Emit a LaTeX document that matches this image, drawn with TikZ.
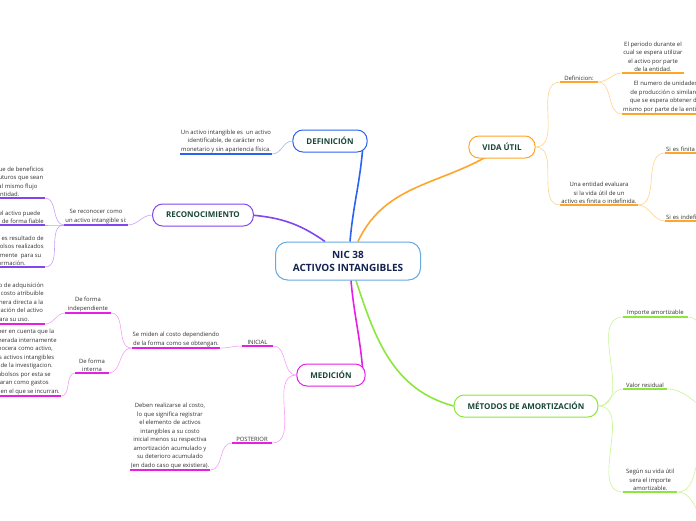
\documentclass[tikz,border=0pt]{standalone}
\usepackage{fontspec}
\setmainfont{Open Sans}
\usetikzlibrary{backgrounds}
\definecolor{mainblue}{RGB}{100,170,225}
\definecolor{mainnavy}{RGB}{20,35,80}
\definecolor{topicgreen}{RGB}{25,70,55}
\definecolor{subgray}{RGB}{50,50,50}
\definecolor{defblue}{RGB}{40,100,240}
\definecolor{deflight}{RGB}{150,185,250}
\definecolor{recpurple}{RGB}{130,70,240}
\definecolor{reclight}{RGB}{200,160,250}
\definecolor{medpink}{RGB}{230,30,230}
\definecolor{medlight}{RGB}{245,160,245}
\definecolor{vidaorange}{RGB}{255,165,40}
\definecolor{vidalight}{RGB}{255,210,140}
\definecolor{metgreen}{RGB}{140,230,60}
\definecolor{metlight}{RGB}{200,245,150}
\begin{document}
\begin{tikzpicture}[x=1pt, y=-1pt,
  every node/.style={font=\fontsize{5.9}{8.5}\selectfont, text=subgray, inner sep=1pt, align=center},
  central/.style={draw=mainblue, line width=1pt, rounded corners=12pt, fill=white, text=mainnavy,
    font=\fontsize{10}{13}\selectfont\bfseries, minimum width=145pt, minimum height=38pt},
  topic/.style={draw=#1, line width=1pt, rounded corners=10pt, fill=white, text=topicgreen,
    font=\fontsize{8}{10}\selectfont\bfseries, minimum height=22pt, inner xsep=13.5pt},
  ul/.style={draw=#1, line width=1.4pt},
  twig/.style={draw=#1, line width=0.6pt},
  limb/.style={draw=#1, line width=1.6pt}]
  \useasboundingbox (0,0) rectangle (696,520);
  \clip (0,0) rectangle (696,520);
  % Central topic
  \node[central] (nic) at (348,261) {NIC 38\\ACTIVOS INTANGIBLES};
  % Main topics
  \node[topic=defblue] (def) at (330,141) {DEFINICIÓN};
  \node[topic=recpurple] (rec) at (203,215) {RECONOCIMIENTO};
  \node[topic=medpink] (med) at (331,375) {MEDICIÓN};
  \node[topic=vidaorange] (vida) at (502,147) {VIDA ÚTIL};
  \node[topic=metgreen] (met) at (526,406) {MÉTODOS DE AMORTIZACIÓN};
  \begin{scope}[on background layer]
    \draw[limb=defblue] ([xshift=2pt]nic.north) to[out=85,in=-95] ([xshift=-5pt,yshift=3pt]def.south east);
    \draw[limb=recpurple] ([xshift=-23pt]nic.north) to[out=145,in=-5] ([xshift=-3pt]rec.east);
    \draw[limb=vidaorange] ([xshift=10pt]nic.north) to[out=65,in=215] (vida.center);
    \draw[limb=medpink] ([xshift=3pt]nic.south) to[out=-85,in=95] ([xshift=-3pt,yshift=-5pt]med.north east);
    \draw[limb=metgreen] ([xshift=8pt]nic.south) to[out=-72,in=165] (met.west);
  \end{scope}
  % Definicion
  \node[anchor=south] (defTxt) at (226,154) {Un activo intangible es\ \ un activo\\identificable, de carácter no\\monetario y sin apariencia física.};
  \draw[twig=deflight] (def.west) to[out=180,in=0] (defTxt.south east);
  % Reconocimiento
  \node[anchor=south] (recTxt) at (96,225) {Se reconocer como\\un activo intangible si:};
  \node[anchor=south east] (rec1) at (45,198) {Es probable que de beneficios\\económicos futuros que sean\\atribuibles al mismo flujo\\a la entidad.};
  \node[anchor=south east] (rec2) at (45,225) {El costo del activo puede\\ser medido de forma fiable};
  \node[anchor=south east] (rec3) at (45,267) {El activo es resultado de\\desembolsos realizados\\internamente\ \ para su\\formación.};
  \draw[twig=reclight] (rec.west) to[out=180,in=0] (recTxt.south east);
  \foreach \n in {rec1,rec2,rec3}
    \draw[twig=reclight] (recTxt.south west) to[out=180,in=0] (\n.south east);
  % Medicion
  \node[anchor=south, minimum width=31pt] (inicTxt) at (257.5,346) {INICIAL};
  \node[anchor=south, minimum width=40pt] (postTxt) at (252,443) {POSTERIOR};
  \node[anchor=south] (misTxt) at (176,348) {Se miden al costo dependiendo\\de la forma como se obtengan.};
  \node[anchor=south, minimum width=45pt] (indTxt) at (88,313) {De forma\\independiente};
  \node[anchor=south, minimum width=33pt] (intTxt) at (92,373) {De forma\\interna};
  \node[anchor=south east] (ind1) at (45,324) {El costo de adquisición\\más el costo atribuible\\de manera directa a la\\preparación del activo\\para su uso.};
  \node[anchor=south east] (int1) at (61,396) {Hay que tener en cuenta que la\\plusvalía generada internamente\\no se reconocera como activo,\\tampoco los activos intangibles\\que surjan de la investigacion.\\Los desembolsos por esta se\\contabilizaran como gastos\\en el periodo en el que se incurran.};
  \node[anchor=south] (postLeaf) at (170,470) {Deben realizarse al costo,\\lo que significa registrar\\el elemento de activos\\intangibles a su costo\\inicial menos su respectiva\\amortización acumulado y\\su deterioro acumulado\\(en dado caso que existiera).};
  \draw[twig=medlight] (med.west) to[out=180,in=0] (inicTxt.south east);
  \draw[twig=medlight] (med.west) to[out=180,in=0] (postTxt.south east);
  \draw[twig=medlight] (inicTxt.south west) to[out=180,in=0] (misTxt.south east);
  \draw[twig=medlight] (misTxt.south west) to[out=180,in=0] (indTxt.south east);
  \draw[twig=medlight] (misTxt.south west) to[out=180,in=0] (intTxt.south east);
  \draw[twig=medlight] (indTxt.south west) to[out=180,in=0] (ind1.south east);
  \draw[twig=medlight] (intTxt.south west) to[out=180,in=0] (int1.south east);
  \draw[twig=medlight] (postTxt.south west) to[out=180,in=0] (postLeaf.south east);
  % Vida util
  \node[anchor=south, minimum width=37pt] (defvTxt) at (579,82) {Definicion:};
  \node[anchor=south] (evalTxt) at (599,205) {Una entidad evaluara\\si la vida útil de un\\activo es finita o indefinida.};
  \node[anchor=south] (vd1) at (653,73) {El periodo durante el\\cual se espera utilizar\\el activo por parte\\de la entidad.};
  \node[anchor=south west] (vd2) at (622,114) {El numero de unidades\\de producción o similares\\que se espera obtener del\\mismo por parte de la entidad.};
  \node[anchor=south west, text width=45pt, align=left] (fin) at (665,153) {Si es finita};
  \node[anchor=south west, text width=45pt, align=left] (indf) at (665,221) {Si es indefinida};
  \draw[twig=vidalight] (vida.east) to[out=0,in=180] (defvTxt.south west);
  \draw[twig=vidalight] (vida.east) to[out=0,in=180] (evalTxt.south west);
  \draw[twig=vidalight] (defvTxt.south east) to[out=0,in=180] (vd1.south west);
  \draw[twig=vidalight] (defvTxt.south east) to[out=0,in=180] (vd2.south west);
  \draw[twig=vidalight] (evalTxt.south east) to[out=0,in=180] (fin.south west);
  \draw[twig=vidalight] (evalTxt.south east) to[out=0,in=180] (indf.south west);
  % Metodos de amortizacion
  \node[anchor=south west, inner xsep=4pt] (imp) at (623,317) {Importe amortizable};
  \node[anchor=south west, inner xsep=3pt] (val) at (623,389) {Valor residual};
  \node[anchor=south west, inner xsep=3pt] (seg) at (623,492) {Según su vida útil\\sera el importe\\amortizable.};
  \coordinate (impEnd) at (720,345);
  \coordinate (valEnd) at (720,412);
  \coordinate (segUp) at (715,440);
  \coordinate (segDn) at (715,525);
  \foreach \n in {imp,val,seg}
    \draw[twig=metlight] (met.east) to[out=0,in=180] (\n.south west);
  \draw[twig=metlight] (imp.south east) to[out=0,in=180] (impEnd);
  \draw[twig=metlight] (val.south east) to[out=0,in=180] (valEnd);
  \draw[twig=metlight] (seg.south east) to[out=0,in=180] (segUp);
  \draw[twig=metlight] (seg.south east) to[out=0,in=180] (segDn);
  % Underlines
  \foreach \n/\c in {defTxt/defblue, recTxt/recpurple, rec1/recpurple, rec2/recpurple, rec3/recpurple,
      inicTxt/medpink, postTxt/medpink, misTxt/medpink, indTxt/medpink, intTxt/medpink,
      ind1/medpink, int1/medpink, postLeaf/medpink, defvTxt/vidaorange, evalTxt/vidaorange,
      vd1/vidaorange, vd2/vidaorange, fin/vidaorange, indf/vidaorange,
      imp/metgreen, val/metgreen, seg/metgreen}
    \draw[ul=\c] (\n.south west) -- (\n.south east);
\end{tikzpicture}
\end{document}
